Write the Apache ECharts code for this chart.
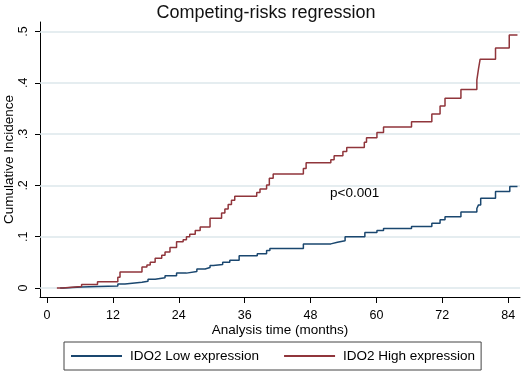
<!DOCTYPE html>
<html>
<head>
<meta charset="utf-8">
<script src="https://cdn.jsdelivr.net/npm/echarts@6/dist/echarts.min.js"></script>
<style>
  html, body { margin: 0; padding: 0; background: #fff; }
  #chart { width: 532px; height: 372px; }
</style>
</head>
<body>
<div id="chart"></div>
<script>
// step points: time (months) where the cumulative incidence jumps, and the new value
const lowTime = [2.4, 3.0, 6.3, 9.2, 12.9, 14.2, 17.3, 18.4, 19.7, 21.5, 23.6, 25.4, 27.3, 28.8, 29.7, 30.3, 32.0, 33.3, 35.0, 38.3, 40.0, 40.6, 46.7, 51.7, 52.9, 54.3, 57.9, 60.1, 61.3, 66.4, 70.1, 71.6, 72.5, 75.4, 78.3, 78.6, 79.0, 81.7, 84.3, 85.7];
const lowCI = [0, 0.002, 0.003, 0.004, 0.008, 0.011, 0.013, 0.017, 0.020, 0.024, 0.029, 0.032, 0.037, 0.040, 0.044, 0.046, 0.050, 0.054, 0.063, 0.067, 0.073, 0.077, 0.086, 0.089, 0.092, 0.100, 0.108, 0.112, 0.116, 0.120, 0.126, 0.133, 0.139, 0.148, 0.155, 0.162, 0.175, 0.188, 0.198, 0.198];
const highTime = [1.8, 2.8, 6.3, 9.2, 12.9, 13.3, 17.3, 18.2, 18.8, 19.7, 20.9, 21.5, 22.4, 23.6, 24.8, 25.4, 26.0, 27.0, 27.9, 29.7, 31.8, 32.4, 33.0, 33.6, 34.2, 38.2, 38.8, 40.0, 40.5, 41.2, 46.7, 47.2, 51.7, 52.3, 53.9, 54.6, 57.8, 58.2, 60.1, 61.3, 66.4, 70.1, 71.6, 72.5, 75.4, 78.3, 78.6, 78.9, 81.7, 84.2, 85.7];
const highCI = [0, 0.003, 0.007, 0.012, 0.021, 0.031, 0.041, 0.045, 0.050, 0.058, 0.064, 0.070, 0.079, 0.090, 0.094, 0.100, 0.105, 0.112, 0.119, 0.136, 0.146, 0.154, 0.163, 0.171, 0.179, 0.186, 0.193, 0.201, 0.214, 0.222, 0.233, 0.244, 0.250, 0.258, 0.266, 0.274, 0.284, 0.293, 0.303, 0.314, 0.324, 0.339, 0.355, 0.370, 0.387, 0.405, 0.427, 0.446, 0.468, 0.493, 0.493];
const xTicks = [0, 12, 24, 36, 48, 60, 72, 84];
const yTicks = [0, 0.1, 0.2, 0.3, 0.4, 0.5];

const pairs = (t, v) => t.map((x, i) => [x, v[i]]);
const font = 'Liberation Sans, Arial, sans-serif';

const myChart = echarts.init(document.getElementById('chart'));
const options = {
  animation: false,
  textStyle: { fontFamily: font },
  title: {
    text: 'Competing-risks regression',
    left: 'center',
    top: -1,
    textStyle: { fontSize: 18, fontWeight: 'normal', color: '#111', fontFamily: font }
  },
  grid: { left: 40, right: 12, top: 22, bottom: 75, outerBoundsMode: 'none' },
  xAxis: {
    type: 'value',
    min: -1.275,
    max: 86.16,
    name: 'Analysis time (months)',
    nameLocation: 'middle',
    nameGap: 26,
    nameMoveOverlap: false,
    nameTextStyle: { fontSize: 13.5, color: '#000' },
    axisLine: { show: true, onZero: false, lineStyle: { color: '#000', width: 1 } },
    axisTick: { show: true, length: 6, customValues: xTicks, lineStyle: { color: '#000' } },
    axisLabel: { customValues: xTicks, fontSize: 12.5, color: '#000', margin: 12 },
    splitLine: { show: false }
  },
  yAxis: {
    type: 'value',
    min: -0.01754,
    max: 0.5185,
    name: 'Cumulative Incidence',
    nameLocation: 'middle',
    nameGap: 24,
    nameMoveOverlap: false,
    nameTextStyle: { fontSize: 13.5, color: '#000' },
    axisLine: { show: true, onZero: false, lineStyle: { color: '#000', width: 1 } },
    axisTick: { show: true, length: 5, customValues: yTicks, lineStyle: { color: '#000' } },
    axisLabel: {
      customValues: yTicks,
      rotate: 90,
      fontSize: 12.5,
      color: '#000',
      margin: 10,
      formatter: v => v === 0 ? '0' : v.toFixed(1).replace('0.', '.')
    },
    splitLine: { show: false }
  },
  legend: {
    left: 64,
    top: 342,
    padding: [7, 6, 7, 7],
    itemWidth: 51,
    itemHeight: 2,
    itemGap: 25,
    borderColor: '#444',
    borderWidth: 1,
    textStyle: { fontSize: 13.5, color: '#000', padding: [0, 2, 0, 3] },
    data: [
      { name: 'IDO2 Low expression', icon: 'rect' },
      { name: 'IDO2 High expression', icon: 'rect' }
    ]
  },
  graphic: [{
    type: 'text',
    left: 330,
    top: 186,
    style: { text: 'p<0.001', fontSize: 13.5, fill: '#000', fontFamily: font }
  }],
  series: [
    {
      name: 'gridlines',
      type: 'line',
      data: [],
      z: 1,
      silent: true,
      markLine: {
        silent: true,
        z: 1,
        symbol: 'none',
        label: { show: false },
        emphasis: { disabled: true },
        lineStyle: { color: '#dde7eb', type: 'solid', width: 1.5 },
        data: yTicks.map(v => ({ yAxis: v }))
      }
    },
    {
      name: 'IDO2 Low expression',
      type: 'line',
      step: 'end',
      symbol: 'none',
      color: '#1a476f',
      lineStyle: { width: 1.5, color: '#1a476f' },
      data: pairs(lowTime, lowCI),
      z: 3
    },
    {
      name: 'IDO2 High expression',
      type: 'line',
      step: 'end',
      symbol: 'none',
      color: '#90353b',
      lineStyle: { width: 1.5, color: '#90353b' },
      data: pairs(highTime, highCI),
      z: 3
    }
  ]
};
myChart.setOption(options);
</script>
</body>
</html>
